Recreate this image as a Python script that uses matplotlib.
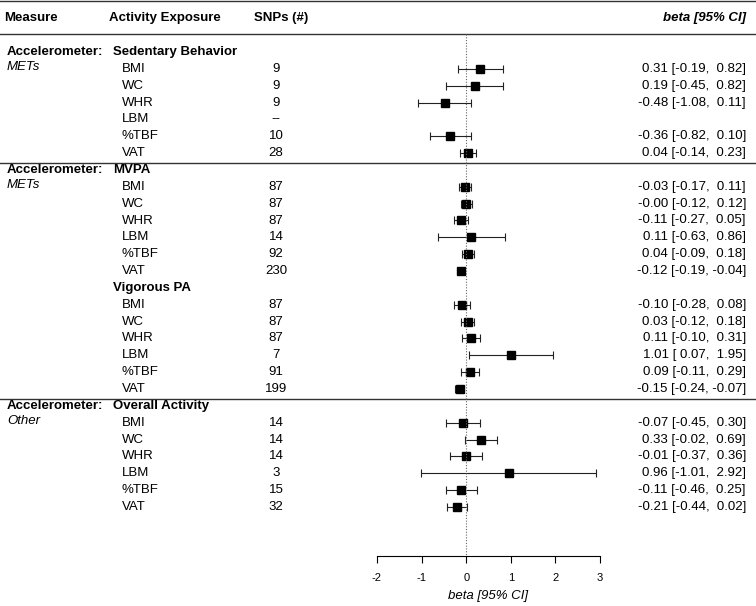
"""
Forest plot: accelerometer activity exposures vs adiposity measures
"""

import numpy as np
import matplotlib.pyplot as plt
import matplotlib as mpl
from matplotlib.transforms import blended_transform_factory

mpl.rc('font', family='Liberation Sans')

#data
outcomes = ["BMI", "WC", "WHR", "LBM", "%TBF", "VAT"]
groups = ["Sedentary Behavior", "MVPA", "Vigorous PA", "Overall Activity"]
measures = ["METs", "METs", None, "Other"]
new_block = [True, True, False, True]

snps = [["9", "9", "9", "--", "10", "28"],
        ["87", "87", "87", "14", "92", "230"],
        ["87", "87", "87", "7", "91", "199"],
        ["14", "14", "14", "3", "15", "32"]]

beta = [[0.31, 0.19, -0.48, np.nan, -0.36, 0.04],
        [-0.03, -0.0, -0.11, 0.11, 0.04, -0.12],
        [-0.10, 0.03, 0.11, 1.01, 0.09, -0.15],
        [-0.07, 0.33, -0.01, 0.96, -0.11, -0.21]]
lower = [[-0.19, -0.45, -1.08, np.nan, -0.82, -0.14],
         [-0.17, -0.12, -0.27, -0.63, -0.09, -0.19],
         [-0.28, -0.12, -0.10, 0.07, -0.11, -0.24],
         [-0.45, -0.02, -0.37, -1.01, -0.46, -0.44]]
upper = [[0.82, 0.82, 0.11, np.nan, 0.10, 0.23],
         [0.11, 0.12, 0.05, 0.86, 0.18, -0.04],
         [0.08, 0.18, 0.31, 1.95, 0.29, -0.07],
         [0.30, 0.69, 0.36, 2.92, 0.25, 0.02]]

xticks = [-2, -1, 0, 1, 2, 3]

#layout (pixels)
W, H = 756, 606
y0, pitch = 52, 16.85
ax_left, ax_right, ax_bottom = 377, 600, 556

fig = plt.figure(figsize=(W / 100, H / 100), dpi=100)
ax = fig.add_axes([ax_left / W, (H - ax_bottom) / H, (ax_right - ax_left) / W, ax_bottom / H])
ax.set_xlim(-2, 3)
ax.set_ylim((ax_bottom - y0) / pitch, -y0 / pitch)
for s in ["top", "left", "right"]:
    ax.spines[s].set_visible(False)
ax.spines["bottom"].set_linewidth(0.8)
ax.set_yticks([])
ax.set_xticks(xticks)
ax.set_xticklabels([str(t) for t in xticks])
ax.tick_params(axis="x", direction="out", length=5, width=0.8, labelsize=8, pad=7)
ax.set_xlabel("beta [95% CI]", fontsize=9.5, style="italic", labelpad=5)

tr = blended_transform_factory(fig.transFigure, ax.transData)
fs = 9.5

def hline(y):
    ax.plot([0, 1], [y, y], transform=tr, color="#333333", lw=1.0, clip_on=False)

#header
hline(-y0 / pitch + 0.06)
hline(-1.07)
ax.text(4 / W, -2.0, "Measure", transform=tr, fontsize=fs, weight="bold", va="center")
ax.text(109 / W, -2.0, "Activity Exposure", transform=tr, fontsize=fs, weight="bold", va="center")
ax.text(254 / W, -2.0, "SNPs (#)", transform=tr, fontsize=fs, weight="bold", va="center")
ax.text(746 / W, -2.0, "beta [95% CI]", transform=tr, fontsize=fs, weight="bold",
        style="italic", va="center", ha="right")

row = 0
for g in range(len(groups)):
    if new_block[g] and g > 0:
        hline(row - 0.4)
    if new_block[g]:
        ax.text(7 / W, row, "Accelerometer:", transform=tr, fontsize=fs, weight="bold", va="center")
        ax.text(7 / W, row + 0.9, measures[g], transform=tr, fontsize=fs, style="italic", va="center")
    ax.text(113 / W, row, groups[g], transform=tr, fontsize=fs, weight="bold", va="center")
    row += 1
    for i, o in enumerate(outcomes):
        ax.text(122 / W, row, o, transform=tr, fontsize=fs, va="center")
        ax.text(276 / W, row, snps[g][i], transform=tr, fontsize=fs, va="center", ha="center")
        b, lo, hi = beta[g][i], lower[g][i], upper[g][i]
        if not np.isnan(b):
            ax.errorbar(b, row, xerr=[[b - lo], [hi - b]], fmt="none", ecolor="#222222",
                        elinewidth=0.8, capsize=3, capthick=0.8, clip_on=False)
            ax.plot(b, row, marker="s", color="black", markersize=5.2, clip_on=False)
            ax.text(746 / W, row, f"{b:.2f} [{lo:5.2f}, {hi:5.2f}]", transform=tr,
                    fontsize=fs, va="center", ha="right")
        row += 1

#zero line
ax.plot([0, 0], [-1.07, ax.get_ylim()[0]], color="#666666", lw=0.8, ls=(0, (1, 1.5)), clip_on=False)

plt.savefig("out.png", dpi=100)
